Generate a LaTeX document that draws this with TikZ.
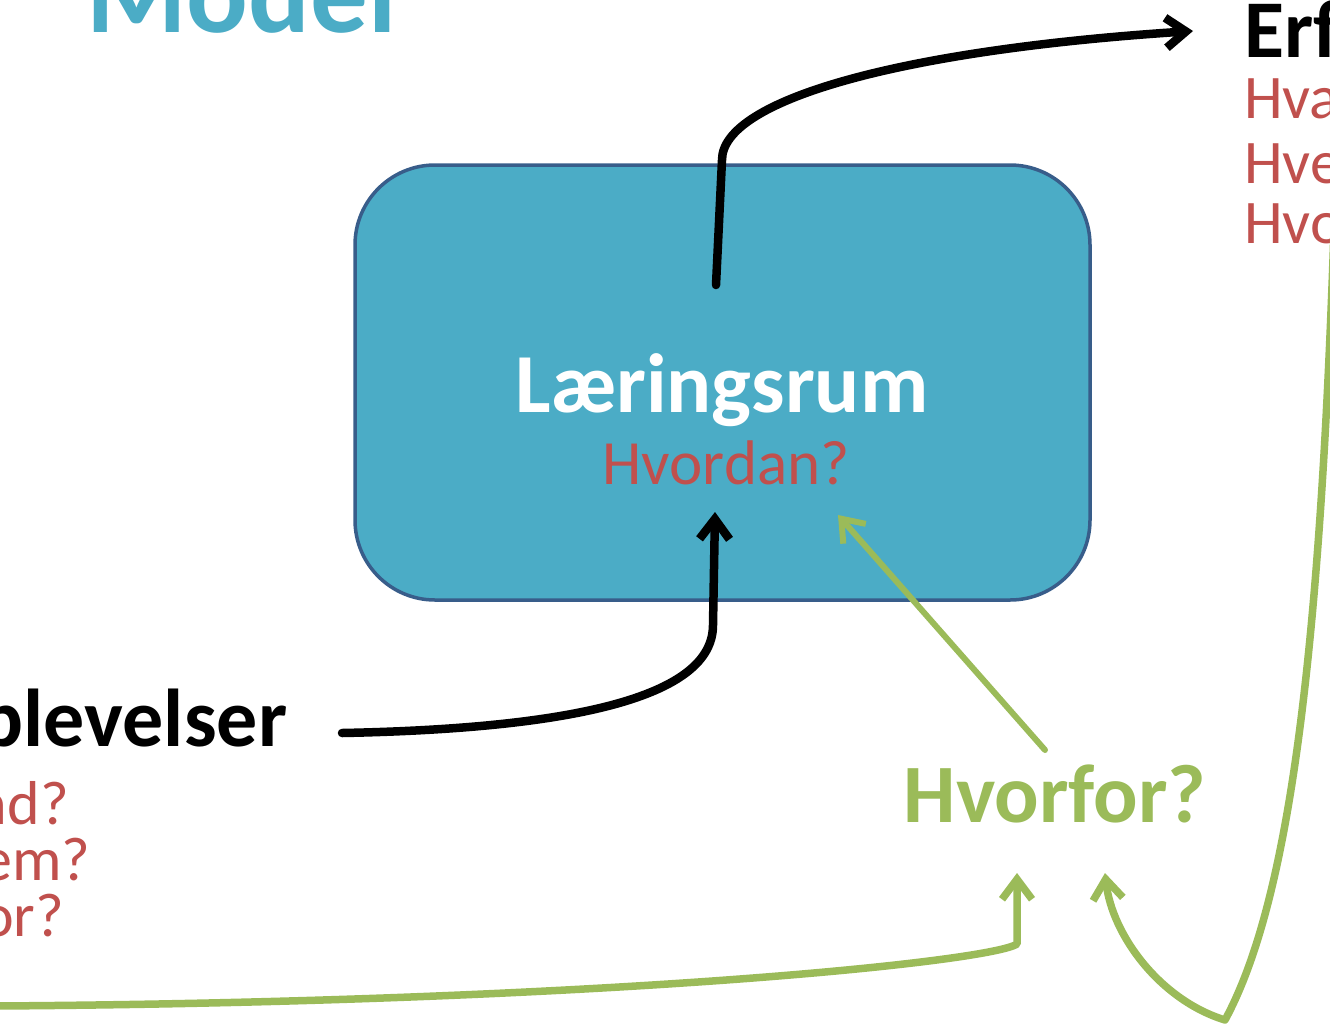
\documentclass[tikz,border=0pt]{standalone}
\usepackage{fontspec}
\setmainfont{Carlito}
\usetikzlibrary{arrows.meta}
\definecolor{rumblue}{HTML}{4BACC6}
\definecolor{rumline}{HTML}{385D8A}
\definecolor{qred}{HTML}{C0504D}
\definecolor{qgreen}{HTML}{9BBB59}
\begin{document}
\begin{tikzpicture}[x=1pt, y=-1pt,
  txt/.style = {inner sep=0pt, anchor=base west},
  head/.style = {txt, font=\bfseries\fontsize{82}{82}\selectfont},
  quest/.style = {txt, text=qred, font=\fontsize{62}{62}\selectfont},
  rum/.style = {draw=rumline, fill=rumblue, line width=3.5pt, rounded corners=80pt, minimum width=735pt, minimum height=435pt},
  conn/.style = {line width=8.5pt, line cap=round, line join=round, -{Straight Barb[length=20pt, width=30pt]}},
  blk/.style = {conn, black},
  grn/.style = {conn, qgreen, line width=7.5pt}]
\useasboundingbox (0,0) rectangle (1330,1026);
\clip (0,0) rectangle (1330,1026);
% title
\node[txt, text=rumblue, font=\bfseries\fontsize{115}{115}\selectfont] (model) at (86,32) {Model};
% box in the middle
\node[rum] (rum) at (722.5,382.5) {};
\node[txt, anchor=base, text=white, font=\bfseries\fontsize{84}{84}\selectfont] (rumtitel) at (722,412) {Læringsrum};
\node[txt, anchor=base, text=qred, font=\fontsize{63}{63}\selectfont] (rumq) at (726,484) {Hvordan?};
% left side
\node[head] (oplev) at (-76,746) {Oplevelser};
\node[quest] (opq1) at (-88,824) {Hvad?};
\node[quest] (opq2) at (-85,880) {Hvem?};
\node[quest] (opq3) at (-85,936) {Hvor?};
% right side
\node[head] (erf) at (1244,57) {Erfaringer};
\node[quest] (erfq1) at (1244,118) {Hvad?};
\node[quest] (erfq2) at (1244,183) {Hvem?};
\node[quest] (erfq3) at (1244,243) {Hvor?};
% why
\node[txt, anchor=base, text=qgreen, font=\bfseries\fontsize{83}{83}\selectfont] (hvorfor) at (1055,822) {Hvorfor?};
% ends of the connectors
\coordinate (opout) at (342,733);
\coordinate (rumin) at (715,512);
\coordinate (rumout) at (716,285);
\coordinate (erfin) at (1193,31);
\coordinate (hvout) at (1045,750);
\coordinate (rumin2) at (838,515);
\coordinate (leftin) at (-5,1006);
\coordinate (hvin1) at (1017,873);
\coordinate (rightin) at (1334,230);
\coordinate (hvin2) at (1105,873);
\draw[blk] (opout) .. controls (600,728) and (713,690) .. (713,625) -- (rumin);
\draw[blk] (rumout) -- (722,160) .. controls (722,100) and (900,50) .. (erfin);
\draw[grn, line width=6pt] (hvout) -- (rumin2);
\draw[grn] (leftin) .. controls (600,1002) and (990,962) .. (1017,944) -- (hvin1);
\draw[grn] (rightin) .. controls (1320,650) and (1290,900) .. (1225,1020) .. controls (1160,1000) and (1112,935) .. (hvin2);
\end{tikzpicture}
\end{document}
